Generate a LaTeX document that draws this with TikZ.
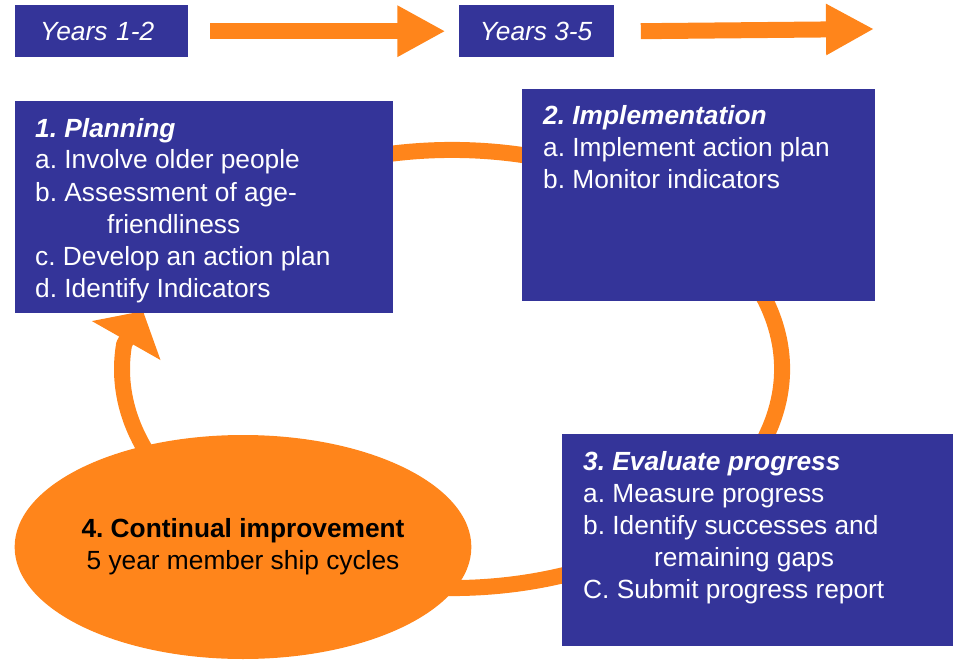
\documentclass[tikz,border=0pt]{standalone}
\usepackage{fontspec}
\setmainfont{Liberation Sans}
\usetikzlibrary{positioning,arrows.meta,shapes.geometric}
\definecolor{stageblue}{RGB}{52,52,153}
\definecolor{cycleorange}{RGB}{255,133,27}
\frenchspacing
\tikzset{
x=1pt, y=-1pt,
every node/.style={font=\fontsize{26.3}{32}\selectfont, inner sep=0pt},
yearbox/.style={fill=stageblue, text=white, minimum height=52pt, font=\fontsize{26.3}{32}\selectfont\itshape},
stage/.style={fill=stageblue, anchor=north west, minimum height=212pt},
stagetext/.style={text=white, align=left, anchor=base west},
timearrow/.style={cycleorange, line width=16pt, -{Triangle[length=48pt,width=48pt]}},
cyclering/.style={draw=cycleorange, line width=16pt, line join=round, -{Triangle[length=34pt,width=77pt]}},
}

\begin{document}
\begin{tikzpicture}
    \useasboundingbox (0,0) rectangle (955,660);

    \node[yearbox, inner xsep=25pt, text width=123pt, align=left, anchor=north west] (yr12) at (15,5) {Years 1-2};
    \node[yearbox, minimum width=155pt, right=270pt of yr12] (yr35) {Years 3-5};
    \coordinate (yearEnd) at (874,29);

    \draw[timearrow] ([xshift=22]yr12.east) -- ([xshift=-13]yr35.west);
    \draw[timearrow] ([xshift=27]yr35.east) -- (yearEnd);

    % the cycle behind the four stages
    \coordinate (cyc) at (452,369);
    \draw[cyclering] ([shift={(-160:330 and 219)}]cyc)
        arc[start angle=-160, end angle=186.5, x radius=330, y radius=219] -- (143,311);

    \node[stage, minimum width=378pt] (plan) at (15,101) {};
    \node[stage, minimum width=353pt] (impl) at (522,89) {};
    \node[stage, minimum width=391pt] (eval) at (562,434) {};

    % base anchor sits on the last line
    \node[stagetext] (planText) at ([shift={(20,196)}]plan.north west)
        {\textbf{\textit{1. Planning}}\\
         a. Involve older people\\
         b. Assessment of age-\\
         \hspace*{72pt}friendliness\\
         c. Develop an action plan\\
         d. Identify Indicators};
    \node[stagetext] (implText) at ([shift={(21,100)}]impl.north west)
        {\textbf{\textit{2. Implementation}}\\
         a. Implement action plan\\
         b. Monitor indicators};
    \node[stagetext] (evalText) at ([shift={(21,164)}]eval.north west)
        {\textbf{\textit{3. Evaluate progress}}\\
         a. Measure progress\\
         b. Identify successes and\\
         \hspace*{71pt}remaining gaps\\
         C. Submit progress report};

    \node[ellipse, fill=cycleorange, minimum width=456pt, minimum height=224pt, align=center] (improve) at (243,547)
        {\textbf{4. Continual improvement}\\ 5 year member ship cycles};

\end{tikzpicture}
\end{document}
